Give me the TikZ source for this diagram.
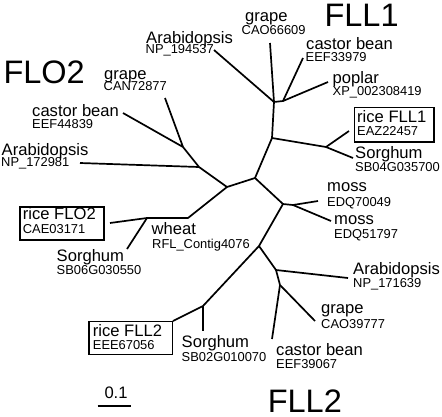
\documentclass[tikz,border=0pt]{standalone}
\usepackage{fontspec}
\setmainfont{Liberation Sans}
\begin{document}
\begin{tikzpicture}[x=1pt,y=-1pt,
  br/.style={line width=1.7pt, line join=round, line cap=butt},
  nm/.style={anchor=base west, inner sep=0pt, font=\fontsize{16.6}{18}\selectfont},
  idl/.style={anchor=base west, inner sep=0pt, font=\fontsize{12.9}{14}\selectfont},
  big/.style={anchor=base west, inner sep=0pt, font=\fontsize{32.5}{36}\selectfont},
  lbox/.style={draw, line width=1.6pt, inner sep=0pt, anchor=north west}]
\useasboundingbox (0,0) rectangle (442,416);

% internal nodes
\coordinate (flo2a) at (183,147);
\coordinate (flo2b) at (199,167);
\coordinate (nA) at (227,187);
\coordinate (wj) at (188,218);
\coordinate (wh) at (147,218);
\coordinate (nB) at (255,178);
\coordinate (fll1) at (272,138);
\coordinate (fll1b) at (274,102);
\coordinate (fll1c) at (283,101);
\coordinate (fll1r) at (326,147);
\coordinate (nC) at (283,204);
\coordinate (nM) at (293,205);
\coordinate (nD) at (259,246);
\coordinate (nE) at (203,306);
\coordinate (nF) at (276,270);
\coordinate (nG) at (280,285);

% leaf ends
\coordinate (lgrapeA) at (165,98);
\coordinate (lcastorA) at (123,113);
\coordinate (larabA) at (80,163);
\coordinate (lriceA) at (110,223);
\coordinate (lsorgA) at (127,249);
\coordinate (larabB) at (214,50);
\coordinate (lgrapeB) at (270,43);
\coordinate (lcastorB) at (303,58);
\coordinate (lpoplar) at (328,82);
\coordinate (lriceB) at (349,131);
\coordinate (lsorgB) at (353,158);
\coordinate (lmoss1) at (318,201);
\coordinate (lmoss2) at (331,221);
\coordinate (larabC) at (348,278);
\coordinate (lgrapeC) at (315,321);
\coordinate (lcastorC) at (272,339);
\coordinate (lriceC) at (173,321);
\coordinate (lsorgC) at (203,331);

% branches
\draw[br] (lgrapeA) -- (flo2a) -- (lcastorA);
\draw[br] (flo2a) -- (flo2b) -- (larabA);
\draw[br] (flo2b) -- (nA) -- (nB);
\draw[br] (nA) -- (wj) -- (wh) -- (lriceA);
\draw[br] (wh) -- (lsorgA);
\draw[br] (nB) -- (fll1) -- (fll1b) -- (larabB);
\draw[br] (fll1b) -- (lgrapeB);
\draw[br] (fll1b) -- (fll1c) -- (lcastorB);
\draw[br] (fll1c) -- (lpoplar);
\draw[br] (fll1) -- (fll1r) -- (lriceB);
\draw[br] (fll1r) -- (lsorgB);
\draw[br] (nB) -- (nC) -- (nM) -- (lmoss1);
\draw[br] (nM) -- (lmoss2);
\draw[br] (nC) -- (nD) -- (nE) -- (lriceC);
\draw[br] (nE) -- (lsorgC);
\draw[br] (nD) -- (nF) -- (larabC);
\draw[br] (nF) -- (nG) -- (lgrapeC);
\draw[br] (nG) -- (lcastorC);

% boxes
\node[lbox, minimum width=84pt, minimum height=33pt] (bxFLO2) at (19.3,206) {};
\node[lbox, minimum width=79.6pt, minimum height=34.3pt] (bxFLL1) at (353.7,106.7) {};
\node[lbox, minimum width=83.4pt, minimum height=33pt] (bxFLL2) at (88.3,320.7) {};

% group labels
\node[big] (gFLO2) at (3.3,83.3) {FLO2};
\node[big] (gFLL1) at (324.3,26.5) {FLL1};
\node[big] (gFLL2) at (267.6,412.3) {FLL2};

% FLO2 clade labels
\node[nm] (t1) at (104,79.3) {grape};
\node[idl] (i1) at (103.5,90.7) {CAN72877};
\node[nm] (t2) at (32,116.5) {castor bean};
\node[idl] (i2) at (32,128.2) {EEF44839};
\node[nm] (t3) at (1.5,155) {Arabidopsis};
\node[idl] (i3) at (1,166.5) {NP\_172981};
\node[nm] (t4) at (22.7,219.7) {rice FLO2};
\node[idl] (i4) at (22.7,233) {CAE03171};
\node[nm] (t5) at (151.5,234.7) {wheat};
\node[idl] (i5) at (152,248) {RFL\_Contig4076};
\node[nm] (t6) at (56.5,261.3) {Sorghum};
\node[idl] (i6) at (56.5,274.7) {SB06G030550};

% FLL1 clade labels
\node[nm] (t7) at (146,43.3) {Arabidopsis};
\node[idl] (i7) at (145.5,53.8) {NP\_194537};
\node[nm] (t8) at (245,21) {grape};
\node[idl] (i8) at (241.5,34.5) {CAO66609};
\node[nm] (t9) at (306,49.5) {castor bean};
\node[idl] (i9) at (305.5,61.5) {EEF33979};
\node[nm] (t10) at (332.5,83.5) {poplar};
\node[idl] (i10) at (332.5,95) {XP\_002308419};
\node[nm] (t11) at (357,122.7) {rice FLL1};
\node[idl] (i11) at (357,135) {EAZ22457};
\node[nm] (t12) at (355,158.3) {Sorghum};
\node[idl] (i12) at (355,171.5) {SB04G035700};

% moss
\node[nm] (t13) at (327,191.7) {moss};
\node[idl] (i13) at (327,206) {EDQ70049};
\node[nm] (t14) at (334,224.7) {moss};
\node[idl] (i14) at (334,238) {EDQ51797};

% FLL2 clade labels
\node[nm] (t15) at (353,274.7) {Arabidopsis};
\node[idl] (i15) at (353,287.3) {NP\_171639};
\node[nm] (t16) at (321,313.3) {grape};
\node[idl] (i16) at (321,328) {CAO39777};
\node[nm] (t17) at (276,355.7) {castor bean};
\node[idl] (i17) at (276,368) {EEF39067};
\node[nm] (t18) at (181.5,347.3) {Sorghum};
\node[idl] (i18) at (181.5,361.3) {SB02G010070};
\node[nm] (t19) at (92.7,336.3) {rice FLL2};
\node[idl] (i19) at (92.7,349.7) {EEE67056};

% scale bar
\node[nm] (sc) at (104.3,398) {0.1};
\coordinate (sb1) at (97.7,406.3);
\coordinate (sb2) at (131,406.3);
\draw[br] (sb1) -- (sb2);
\end{tikzpicture}
\end{document}
